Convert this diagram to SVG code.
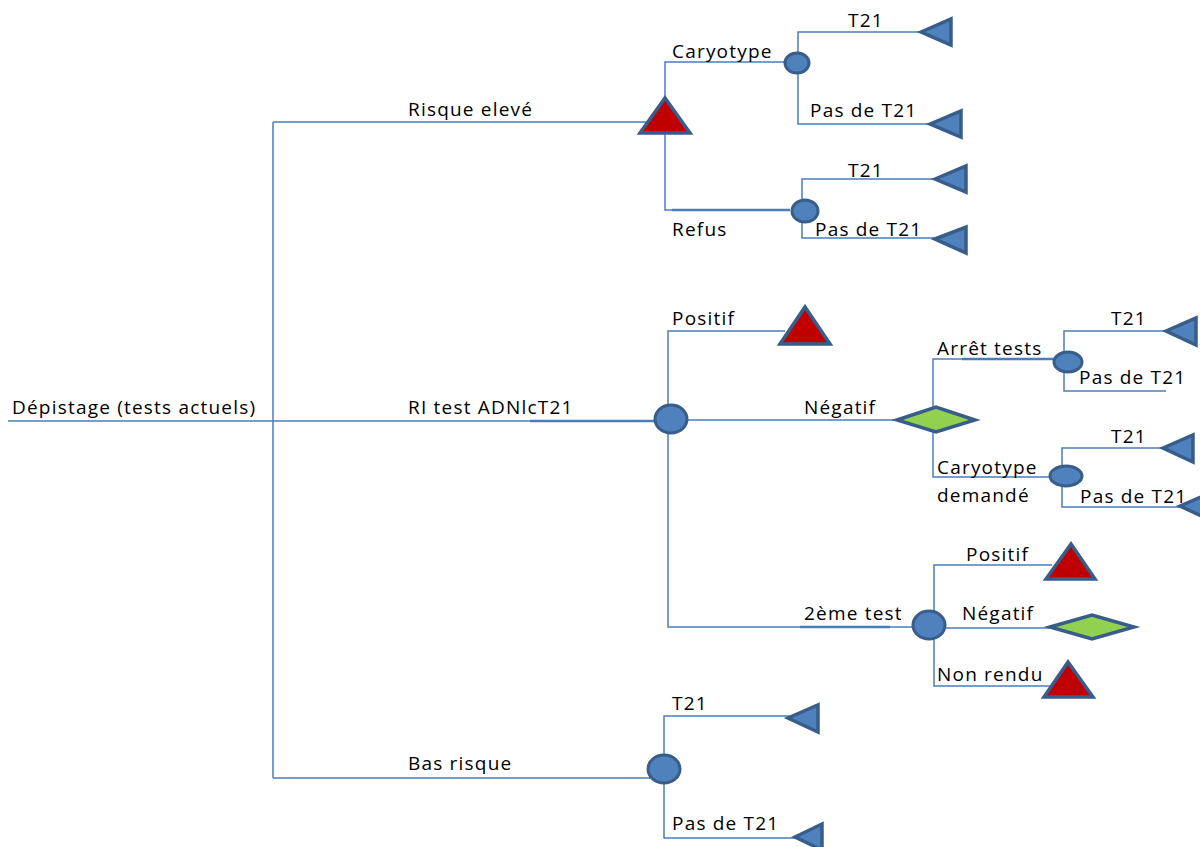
<svg xmlns="http://www.w3.org/2000/svg" width="1200" height="847" viewBox="0 0 1200 847">
<style>
.ln{fill:none;stroke:#4a7ebb;stroke-width:1.5}
.lt{fill:none;stroke:#4a7ebb;stroke-width:2.5}
.ch{fill:#4f81bd;stroke:#385d8a;stroke-width:3}
.tr{fill:#c00000;stroke:#385d8a;stroke-width:3.5;stroke-linejoin:miter}
.dm{fill:#92d050;stroke:#385d8a;stroke-width:3.5}
.te{fill:#4f81bd;stroke:#385d8a;stroke-width:3.5}
text{font-family:"Open Sans","Liberation Sans",Arial,sans-serif;font-size:19px;letter-spacing:1.2px;fill:#000}
</style>
<rect width="1200" height="847" fill="#fff"/>
<g id="connectors">
<path class="ln" d="M8 421H273M273 122V778M273 122H665M273 421H655M273 778H650"/>
<path class="lt" d="M530 421H655"/>
<path class="ln" d="M665 122V62H785M665 122V210H790"/>
<path class="lt" d="M672 210H790"/>
<path class="ln" d="M798 63V32H921M798 63V124H930"/>
<path class="ln" d="M802 211V179H935M802 211V238H935"/>
<path class="ln" d="M668 419V331H785M668 419V627H912M687 420H897"/>
<path class="lt" d="M800 627H890"/>
<path class="ln" d="M933 420V359H1054M933 420V477H1050"/>
<path class="lt" d="M962 359H1054"/>
<path class="ln" d="M1064 362V331H1166M1064 362V391H1166"/>
<path class="ln" d="M1062 476V448H1163M1062 476V507H1180"/>
<path class="ln" d="M934 625V565H1052M945 628H1050M934 625V686H1055"/>
<path class="ln" d="M664 769V716H790M664 769V838H797"/>
</g>
<g id="n-root"><text x="12" y="414">Dépistage (tests actuels)</text></g>
<g id="n-risque"><text x="408" y="116">Risque elevé</text><path class="tr" d="M665 98L690 133H640Z"/></g>
<g id="n-caryo"><text x="672" y="58">Caryotype</text><ellipse class="ch" cx="797" cy="63" rx="12" ry="10"/></g>
<g id="n-caryo-t21"><text x="848" y="27">T21</text><path class="te" d="M921 32L951 19V45Z"/></g>
<g id="n-caryo-pas"><text x="810" y="117">Pas de T21</text><path class="te" d="M930 124L961 111V137Z"/></g>
<g id="n-refus"><text x="672" y="236">Refus</text><ellipse class="ch" cx="805" cy="211" rx="13" ry="11"/></g>
<g id="n-refus-t21"><text x="848" y="177">T21</text><path class="te" d="M935 179L966 166V192Z"/></g>
<g id="n-refus-pas"><text x="815" y="236">Pas de T21</text><path class="te" d="M935 239L966 227V253Z"/></g>
<g id="n-ri"><text x="408" y="414">RI test ADNlcT21</text><ellipse class="ch" cx="671" cy="419" rx="16" ry="14"/></g>
<g id="n-ri-pos"><text x="672" y="325">Positif</text><path class="tr" d="M805 307L830 344H780Z"/></g>
<g id="n-ri-neg"><text x="804" y="414">Négatif</text><path class="dm" d="M897 420L936 407L975 420L936 432Z"/></g>
<g id="n-arret"><text x="937" y="355">Arrêt tests</text><ellipse class="ch" cx="1068" cy="362" rx="14" ry="10"/></g>
<g id="n-arret-t21"><text x="1111" y="325">T21</text><path class="te" d="M1166 331L1196 318V345Z"/></g>
<g id="n-arret-pas"><text x="1079" y="384">Pas de T21</text></g>
<g id="n-cd"><text x="937" y="474">Caryotype</text><text x="937" y="502">demandé</text><ellipse class="ch" cx="1066" cy="476" rx="16" ry="10"/></g>
<g id="n-cd-t21"><text x="1111" y="443">T21</text><path class="te" d="M1163 448L1193 435V462Z"/></g>
<g id="n-cd-pas"><text x="1080" y="503">Pas de T21</text><path class="te" d="M1180 506L1210 493V520Z"/></g>
<g id="n-2e"><text x="804" y="620">2ème test</text><ellipse class="ch" cx="929" cy="625" rx="16" ry="14"/></g>
<g id="n-2e-pos"><text x="966" y="561">Positif</text><path class="tr" d="M1071 544L1095 579H1046Z"/></g>
<g id="n-2e-neg"><text x="962" y="620">Négatif</text><path class="dm" d="M1050 627L1092 615L1134 627L1092 639Z"/></g>
<g id="n-2e-nr"><text x="937" y="681">Non rendu</text><path class="tr" d="M1068 662L1093 697H1044Z"/></g>
<g id="n-bas"><text x="408" y="770">Bas risque</text><ellipse class="ch" cx="664" cy="769" rx="16" ry="14"/></g>
<g id="n-bas-t21"><text x="672" y="710">T21</text><path class="te" d="M788 718L818 705V732Z"/></g>
<g id="n-bas-pas"><text x="672" y="830">Pas de T21</text><path class="te" d="M795 837L822 824V850Z"/></g>
</svg>
